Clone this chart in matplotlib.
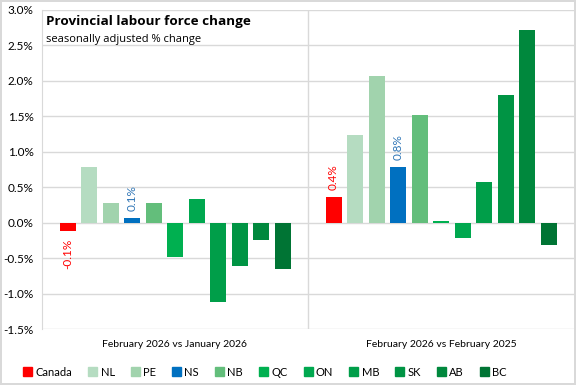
import numpy as np
import matplotlib.pyplot as plt
from matplotlib.patches import Patch

regions = ["Canada", "NL", "PE", "NS", "NB", "QC", "ON", "MB", "SK", "AB", "BC"]
periods = ["February 2026 vs January 2026", "February 2026 vs February 2025"]
mom = [-0.12, 0.79, 0.28, 0.06, 0.28, -0.49, 0.34, -1.12, -0.61, -0.24, -0.65]
yoy = [0.36, 1.24, 2.07, 0.78, 1.52, 0.03, -0.21, 0.58, 1.80, 2.72, -0.31]
labelled = {"Canada": "#FF0000", "NS": "#2E75B6"}

colors = ["#FF0000", "#B5DCC1", "#A1D3AD", "#0070C0", "#63BE7B", "#00B050",
          "#00A84F", "#009E49", "#009444", "#00883D", "#007434"]

plt.rcParams['font.family'] = ['Lato', 'DejaVu Sans']

fig = plt.figure(figsize=(5.76, 3.85), dpi=100)
fig.patch.set_edgecolor("#D9D9D9")
fig.patch.set_linewidth(1.5)
ax = fig.add_axes([42 / 576, 1 - 329 / 385, 532 / 576, 319 / 385])

step = 21.5 / 266
width = 16 / 266
offsets = (np.arange(len(regions)) - (len(regions) - 1) / 2) * step

for g, vals in enumerate([mom, yoy]):
    xs = g + 0.5 + offsets
    ax.bar(xs, vals, width=width, color=colors, zorder=3)
    for x, v, r in zip(xs, vals, regions):
        if r in labelled:
            va = "bottom" if v >= 0 else "top"
            pad = 0.1 if v >= 0 else -0.1
            ax.text(x, v + pad, f"{v:.1f}%", rotation=90, ha="center", va=va,
                    color=labelled[r], fontsize=8.5)

ax.set_xlim(0, 2)
ax.set_ylim(-1.5, 3.0)
ax.set_yticks(np.arange(-1.5, 3.01, 0.5))
ax.set_yticklabels([f"{t:.1f}%" for t in np.arange(-1.5, 3.01, 0.5)])
ax.yaxis.grid(True, color="#D9D9D9", linewidth=1, zorder=0)
ax.axvline(1, color="#D9D9D9", linewidth=1, zorder=1)
ax.set_xticks([0.5, 1.5])
ax.set_xticklabels(periods, fontsize=7.5)
ax.tick_params(axis="both", length=0, colors="#000000")
ax.tick_params(axis="y", labelsize=8.5, pad=6)
ax.tick_params(axis="x", pad=8)
for s in ["top", "right", "bottom"]:
    ax.spines[s].set_visible(False)
ax.spines["left"].set_color("#D9D9D9")

ax.text(0.008, 0.985, "Provincial labour force change", transform=ax.transAxes,
        fontsize=9.7, fontweight="bold", va="top", family=["Open Sans", "DejaVu Sans"])
ax.text(0.008, 0.925, "seasonally adjusted % change", transform=ax.transAxes,
        fontsize=8, va="top", family=["Open Sans", "DejaVu Sans"])

handles = [Patch(color=c, label=r) for r, c in zip(regions, colors)]
fig.legend(handles=handles, loc="center", bbox_to_anchor=(0.46, 1 - 372 / 385),
           ncol=11, frameon=False, fontsize=8, handlelength=0.8, handleheight=0.8,
           handletextpad=0.3, columnspacing=1.45)

fig.savefig("out.png", dpi=100)
